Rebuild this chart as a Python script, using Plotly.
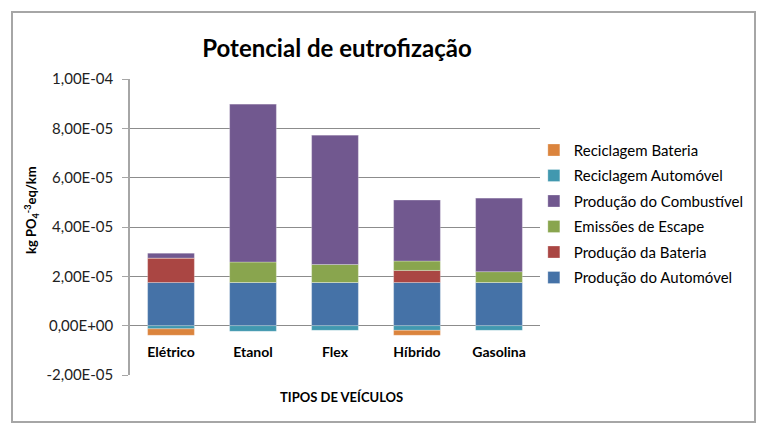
import plotly.graph_objects as go

categories = ["Elétrico", "Etanol", "Flex", "Híbrido", "Gasolina"]
# values in units of 1e-5 kg PO4-3 eq/km
producao_automovel = [1.75, 1.75, 1.75, 1.75, 1.75]
producao_bateria = [0.99, 0.0, 0.0, 0.49, 0.0]
emissoes_escape = [0.0, 0.83, 0.73, 0.38, 0.44]
producao_combustivel = [0.20, 6.41, 5.25, 2.47, 2.99]
reciclagem_automovel = [-0.13, -0.23, -0.19, -0.19, -0.19]
reciclagem_bateria = [-0.26, 0.0, 0.0, -0.20, 0.0]
scale = 1e-5

tick_vals = [-2e-5, 0, 2e-5, 4e-5, 6e-5, 8e-5, 1e-4]
tick_text = ["-2,00E-05", "0,00E+00", "2,00E-05", "4,00E-05", "6,00E-05", "8,00E-05", "1,00E-04"]

series = [
    ("Produção do Automóvel", producao_automovel, "#4572A7"),
    ("Produção da Bateria", producao_bateria, "#AA4643"),
    ("Emissões de Escape", emissoes_escape, "#89A54E"),
    ("Produção do Combustível", producao_combustivel, "#71588F"),
    ("Reciclagem Automóvel", reciclagem_automovel, "#4198AF"),
    ("Reciclagem Bateria", reciclagem_bateria, "#DB843D"),
]

FONT = "Lato"
fig = go.Figure()
n = len(series)
for i, (name, vals, color) in enumerate(series):
    fig.add_trace(go.Bar(
        x=categories, y=[v * scale for v in vals], name=name,
        marker=dict(color=color, line=dict(color="rgba(255,255,255,0.45)", width=0.6)),
        legendgroup=name, legendrank=n - i,
    ))

fig.update_layout(
    width=766, height=433, autosize=False,
    margin=dict(l=130, r=226, t=79, b=58),
    paper_bgcolor="white", plot_bgcolor="white",
    barmode="relative", bargap=0.43,
    font=dict(family=FONT, size=14, color="#000000"),
    title=dict(text="<b>Potencial de eutrofização</b>", xref="container", x=0.44,
               xanchor="center", yref="container", y=(433 - 49) / 433, yanchor="middle",
               font=dict(family=FONT, size=24, color="#000000")),
    legend=dict(x=0.985, y=0.815, xanchor="left", yanchor="top",
                traceorder="grouped", tracegroupgap=3,
                font=dict(family=FONT, size=15, color="#000000"),
                bgcolor="rgba(0,0,0,0)", itemwidth=30),
    xaxis=dict(anchor="free", position=(375 - 326) / 296, showline=False, showgrid=False,
               ticks="", ticklabelstandoff=16, tickfont=dict(family=FONT, size=14, color="#000000"),
               tickprefix="<b>", ticksuffix="</b>", zeroline=False),
    yaxis=dict(range=[-2e-5, 1e-4], tickvals=tick_vals, ticktext=tick_text,
               showgrid=True, gridcolor="#8c8c8c", gridwidth=1, zeroline=False,
               showline=True, linecolor="#a6a6a6", linewidth=1.5,
               ticks="outside", ticklen=6, tickcolor="#a6a6a6", ticklabelstandoff=6,
               tickfont=dict(family=FONT, size=15, color="#222222")),
    annotations=[
        dict(text="<b>kg PO<sub>4</sub><sup>-3</sup>eq/km</b>", textangle=-90,
             xref="paper", yref="paper", x=(31 - 130) / 410, y=(375 - 210) / 296,
             xanchor="center", yanchor="middle", showarrow=False,
             font=dict(family=FONT, size=13, color="#000000")),
        dict(text="<b>TIPOS DE VEÍCULOS</b>", xref="paper", yref="paper",
             x=(341 - 130) / 410, y=(375 - 397) / 296, xanchor="center", yanchor="middle",
             showarrow=False, font=dict(family=FONT, size=13, color="#000000")),
    ],
    shapes=[dict(type="rect", xref="paper", yref="paper",
                 x0=(12 - 130) / 410, x1=(755 - 130) / 410,
                 y0=(375 - 422) / 296, y1=(375 - 12) / 296,
                 line=dict(color="#a6a6a6", width=2), fillcolor="rgba(0,0,0,0)", layer="below")],
)

fig.write_html("out.html")
